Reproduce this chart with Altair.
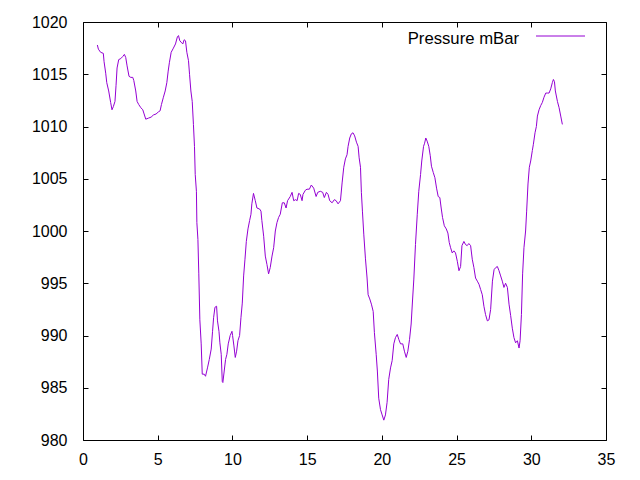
import altair as alt
import pandas as pd

hours = [
    0.96, 1.03, 1.18, 1.36, 1.41, 1.52, 1.59, 1.72, 1.85, 1.94, 2.03, 2.14, 2.21, 2.28, 2.39, 2.53,
    2.66, 2.77, 2.86, 2.95, 3.08, 3.20, 3.33, 3.40, 3.53, 3.62, 3.73, 3.87, 4.00, 4.09, 4.20, 4.38,
    4.56, 4.71, 4.89, 5.05, 5.16, 5.25, 5.38, 5.50, 5.61, 5.70, 5.78, 5.90, 6.05, 6.19, 6.32, 6.39,
    6.48, 6.61, 6.68, 6.77, 6.86, 6.95, 7.06, 7.13, 7.22, 7.31, 7.39, 7.46, 7.51, 7.59, 7.62, 7.69,
    7.75, 7.82, 7.91, 7.98, 8.11, 8.20, 8.33, 8.45, 8.58, 8.67, 8.74, 8.83, 8.94, 9.00, 9.10, 9.16,
    9.25, 9.32, 9.36, 9.45, 9.54, 9.63, 9.72, 9.85, 9.97, 10.01, 10.10, 10.19, 10.28, 10.37, 10.48,
    10.57, 10.66, 10.75, 10.84, 10.93, 11.04, 11.15, 11.24, 11.30, 11.41, 11.53, 11.64, 11.82, 11.91,
    11.97, 12.09, 12.20, 12.31, 12.42, 12.53, 12.65, 12.76, 12.87, 12.98, 13.09, 13.20, 13.34, 13.47,
    13.59, 13.69, 13.87, 13.99, 14.10, 14.23, 14.33, 14.43, 14.54, 14.66, 14.72, 14.88, 14.99, 15.15,
    15.28, 15.44, 15.60, 15.71, 15.88, 16.04, 16.15, 16.29, 16.40, 16.51, 16.67, 16.82, 16.94, 17.07,
    17.23, 17.34, 17.45, 17.56, 17.67, 17.74, 17.85, 17.96, 18.07, 18.18, 18.30, 18.41, 18.48, 18.57,
    18.63, 18.70, 18.79, 18.90, 19.01, 19.08, 19.19, 19.30, 19.42, 19.50, 19.62, 19.70, 19.79, 19.91,
    20.02, 20.13, 20.24, 20.35, 20.46, 20.58, 20.69, 20.80, 20.91, 21.03, 21.14, 21.25, 21.40, 21.51,
    21.63, 21.74, 21.85, 21.96, 22.05, 22.14, 22.25, 22.37, 22.47, 22.59, 22.67, 22.79, 22.86, 22.94,
    23.03, 23.14, 23.24, 23.32, 23.44, 23.55, 23.66, 23.77, 23.88, 23.97, 24.06, 24.18, 24.31, 24.42,
    24.51, 24.60, 24.71, 24.82, 24.93, 25.05, 25.16, 25.27, 25.36, 25.49, 25.60, 25.71, 25.82, 25.94,
    26.05, 26.16, 26.27, 26.39, 26.50, 26.61, 26.72, 26.83, 26.94, 27.06, 27.17, 27.28, 27.40, 27.51,
    27.62, 27.73, 27.84, 27.95, 28.06, 28.17, 28.28, 28.40, 28.51, 28.62, 28.73, 28.84, 28.95, 29.07,
    29.18, 29.25, 29.34, 29.42, 29.51, 29.62, 29.69, 29.78, 29.87, 29.96, 30.07, 30.14, 30.25, 30.34,
    30.41, 30.52, 30.63, 30.74, 30.85, 30.97, 31.08, 31.19, 31.30, 31.41, 31.48, 31.55, 31.61, 31.75,
    31.86, 31.97, 32.08,
]

pressure = [
    1017.8, 1017.4, 1017.1, 1017.0, 1016.2, 1015.1, 1014.2, 1013.4, 1012.3, 1011.6, 1011.9, 1012.4,
    1013.9, 1015.6, 1016.4, 1016.5, 1016.7, 1016.9, 1016.6, 1015.8, 1014.8, 1014.7, 1014.7, 1014.4,
    1013.4, 1012.4, 1012.1, 1011.8, 1011.6, 1011.2, 1010.7, 1010.8, 1010.9, 1011.1, 1011.2, 1011.4,
    1011.5, 1012.1, 1012.8, 1013.4, 1014.2, 1015.3, 1016.1, 1017.1, 1017.5, 1017.9, 1018.6, 1018.7,
    1018.2, 1018.0, 1017.9, 1018.3, 1018.2, 1017.1, 1016.3, 1015.0, 1013.4, 1012.4, 1010.2, 1008.1,
    1005.4, 1003.8, 1000.8, 999.2, 995.9, 991.5, 989.2, 986.3, 986.3, 986.1, 986.9, 987.7, 988.7,
    990.4, 991.7, 992.7, 992.8, 991.4, 990.4, 989.3, 988.2, 985.6, 985.5, 986.6, 987.7, 988.2, 989.2,
    990.0, 990.4, 990.0, 989.0, 987.9, 988.5, 989.5, 990.0,
    991.7, 993.1, 995.7, 997.3, 999.0, 1000.2, 1001.0, 1001.6, 1002.6, 1003.6, 1002.9, 1002.2,
    1002.1, 1001.9, 1001.0, 999.5, 997.6, 996.8, 995.9, 996.5, 997.6, 998.4, 1000.0, 1000.8, 1001.3,
    1001.6, 1002.7, 1002.7, 1002.2, 1002.9, 1003.3, 1003.7, 1002.9, 1003.0, 1002.9, 1003.6, 1003.5,
    1002.9, 1003.5, 1003.9, 1004.0, 1004.0, 1004.4, 1004.1, 1003.3, 1003.7, 1003.8, 1003.7, 1003.2,
    1003.7, 1003.5, 1002.9, 1002.7, 1003.0, 1002.9, 1002.6, 1002.9, 1004.6, 1006.1, 1006.9, 1007.3,
    1008.1, 1008.9, 1009.3, 1009.4, 1009.1, 1008.5, 1008.1, 1007.0, 1006.1, 1003.7, 1001.9, 999.7,
    997.4, 995.5, 993.9, 993.5, 993.0, 992.3, 990.3, 988.2, 986.6, 984.0, 982.9, 982.4, 981.9, 982.4,
    983.6, 985.8, 986.9, 987.6, 989.2, 989.8, 990.1, 989.6, 989.2, 989.2, 988.5, 987.9, 988.5, 989.6,
    991.1, 993.3, 995.4, 998.7, 1001.6, 1003.8, 1005.4, 1006.7, 1008.1, 1008.4, 1008.9, 1008.6,
    1008.1, 1007.2, 1006.2, 1005.6, 1005.1, 1004.1, 1003.3, 1003.2, 1002.2, 1001.3, 1000.5, 1000.2,
    999.8, 998.9, 998.4, 997.9, 998.1, 997.9, 997.1, 996.2, 996.6, 998.6, 999.0, 998.7, 998.6, 998.8,
    998.6, 997.3, 996.5, 995.5, 995.2, 994.9, 994.4, 993.9, 992.8, 992.0, 991.4, 991.5, 992.5, 995.2,
    996.3, 996.5, 996.6, 996.2, 995.7, 995.2, 994.6, 995.0, 994.6, 993.0, 991.9, 990.7, 989.8, 989.3,
    989.5, 988.8, 989.5, 992.0, 995.9, 998.4, 1000.0, 1001.9, 1004.5, 1006.1, 1006.7, 1007.7, 1008.3,
    1009.4, 1010.0, 1011.0, 1011.6, 1012.0, 1012.3, 1012.8, 1013.2, 1013.2, 1013.2, 1013.6, 1014.2,
    1014.5, 1014.3, 1013.4, 1012.4, 1011.8, 1011.0, 1010.2,
]

series_name = "Pressure mBar"
x_ticks = [0, 5, 10, 15, 20, 25, 30, 35]
y_ticks = [980, 985, 990, 995, 1000, 1005, 1010, 1015, 1020]

LINE_COLOR = "#9400d3"
FONT = "Liberation Sans"
FS = 16
W, H = 523, 418

df = pd.DataFrame({"hours": hours, "pressure": pressure})
legend_df = pd.DataFrame({"label": [series_name]})

xs = alt.Scale(domain=[x_ticks[0], x_ticks[-1]], nice=False, zero=False)
ys = alt.Scale(domain=[y_ticks[0], y_ticks[-1]], nice=False, zero=False)


def make_axis(orient, values, labels, pad):
    return alt.Axis(
        orient=orient, values=values, tickSize=5, offset=-5, domain=False, grid=False,
        title=None, tickColor="black", tickWidth=1, labels=labels, labelPadding=pad,
        labelFont=FONT, labelFontSize=FS, labelColor="black", labelFlush=False,
        labelOverlap=False, format="d",
    )


line = alt.Chart(df).mark_line(color=LINE_COLOR, strokeWidth=1).encode(
    x=alt.X("hours:Q", scale=xs, axis=make_axis("bottom", x_ticks, True, 11)),
    y=alt.Y("pressure:Q", scale=ys, axis=make_axis("left", y_ticks, True, 16)),
)

mirror = alt.Chart(df).mark_point(opacity=0).encode(
    x=alt.X("hours:Q", scale=xs, axis=make_axis("top", x_ticks, False, 0)),
    y=alt.Y("pressure:Q", scale=ys, axis=make_axis("right", y_ticks, False, 0)),
)

legend_text = alt.Chart(legend_df).mark_text(
    align="right", baseline="alphabetic", font=FONT, fontSize=16.7, color="black"
).encode(x=alt.value(436), y=alt.value(22), text="label:N")

legend_line = alt.Chart(legend_df).mark_rule(color=LINE_COLOR, strokeWidth=1).encode(
    x=alt.value(453), x2=alt.value(502), y=alt.value(14)
)

chart = (
    alt.layer(line, mirror, legend_text, legend_line)
    .resolve_axis(x="independent", y="independent")
    .properties(
        width=W, height=H,
        autosize=alt.AutoSizeParams(type="none"),
        padding={"left": 75, "top": 14, "right": 26, "bottom": 32},
        background="white",
    )
    .configure_view(stroke="black", strokeWidth=1)
)

chart.save("out.html", embed_options={"renderer": "svg", "actions": False})
